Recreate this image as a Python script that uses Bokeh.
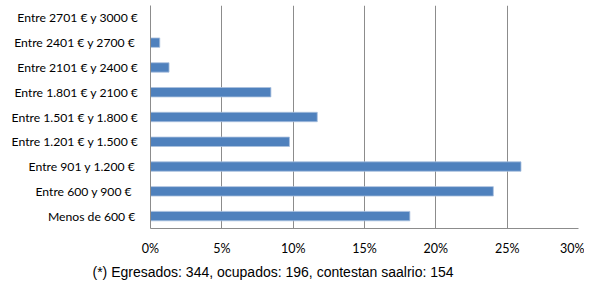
from bokeh.plotting import figure
from bokeh.models import NumeralTickFormatter, Title, FixedTicker
from bokeh.embed import file_html
from bokeh.resources import INLINE

categories = ["Menos de 600 € ", "Entre 600 y  900 € ", "Entre 901 y 1.200 € ",
              "Entre 1.201 € y 1.500 €", "Entre 1.501 € y 1.800 €", "Entre 1.801 € y 2100 €",
              "Entre 2101 € y 2400 €", "Entre 2401 € y 2700 € ", "Entre 2701 € y 3000 €"]
shares = [0.1818, 0.2403, 0.2597, 0.0974, 0.1169, 0.0844, 0.0130, 0.0065, 0.0]
x_ticks = [0, 0.05, 0.10, 0.15, 0.20, 0.25, 0.30]
footnote = "(*) Egresados: 344, ocupados: 196, contestan saalrio: 154"

p = figure(width=584, height=282, y_range=categories, x_range=(0, 0.30),
           output_backend="svg", toolbar_location=None,
           min_border_left=150, min_border_right=6, min_border_top=5, min_border_bottom=0)

p.hbar(y=categories, right=shares, left=0, height=0.38,
       fill_color="#4f81bd", line_color="#a9c0de", line_width=0.8)

p.outline_line_color = None
p.ygrid.grid_line_color = None
p.xgrid.grid_line_color = "#8c8c8c"
p.xgrid.grid_line_width = 1
p.xaxis.ticker = FixedTicker(ticks=x_ticks)
p.xaxis.formatter = NumeralTickFormatter(format="0%")

for ax in (p.xaxis, p.yaxis):
    ax.axis_line_color = "#8c8c8c"
    ax.major_tick_line_color = None
    ax.minor_tick_line_color = None
    ax.major_tick_in = 0
    ax.major_tick_out = 0
    ax.major_label_text_font = "Lato"
    ax.major_label_text_color = "#000000"

p.yaxis.major_label_text_font_size = "12.2px"
p.xaxis.major_label_text_font_size = "12.5px"
p.yaxis.major_label_standoff = 12
p.xaxis.major_label_standoff = 12

t = Title(text=footnote, text_font="Liberation Sans", text_font_size="14px",
          text_font_style="normal", text_color="#000000", align="left", offset=-58,
          standoff=6)
p.add_layout(t, "below")

open("out.html", "w").write(file_html(p, INLINE))
